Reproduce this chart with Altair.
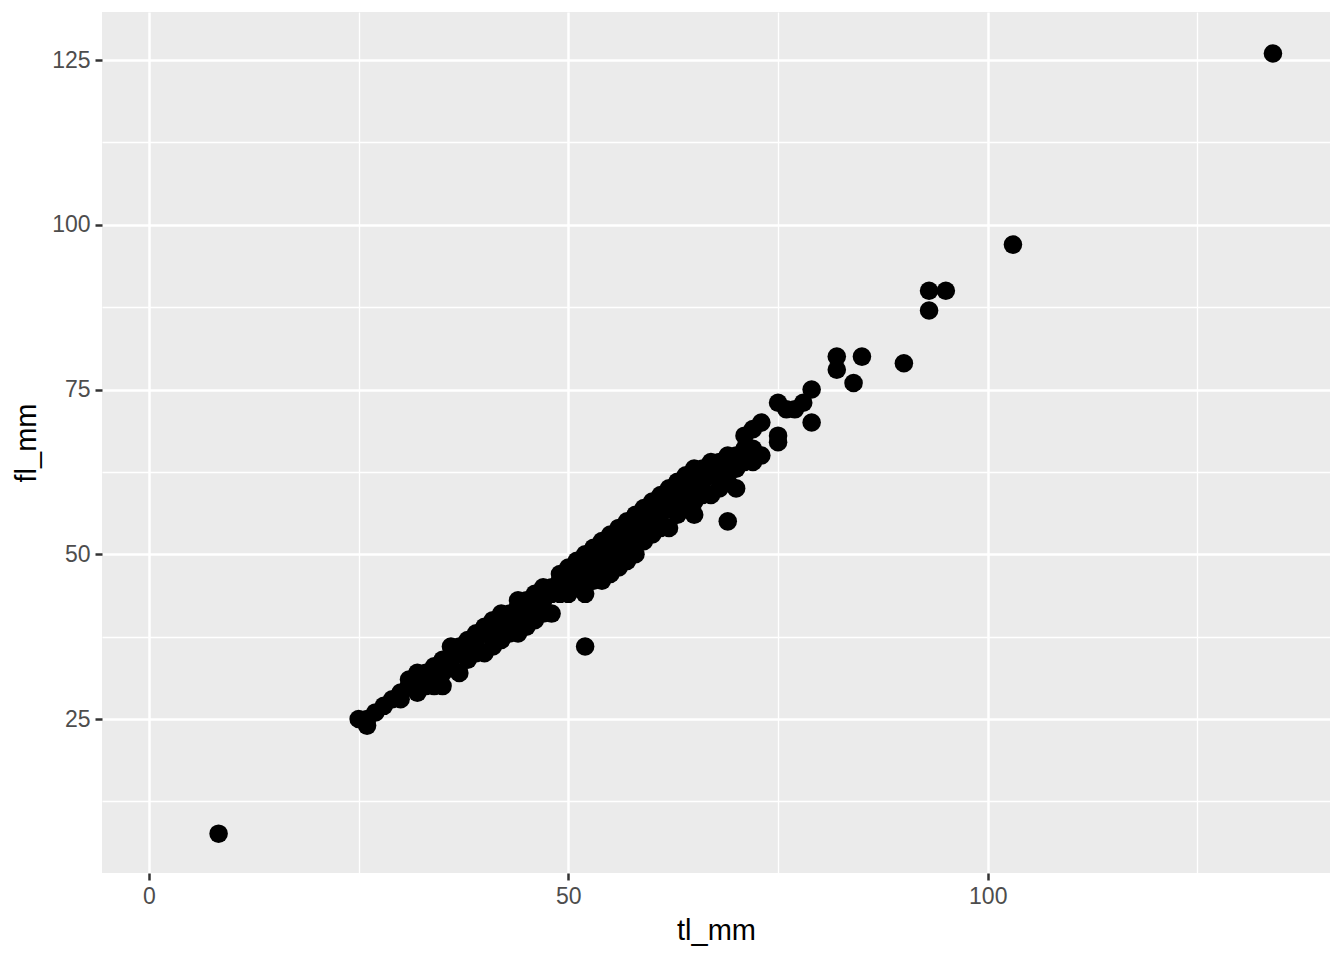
import altair as alt
import pandas as pd

tl_mm = [8.3, 25, 26, 26, 27, 28, 29, 30, 30, 31, 31, 32, 32, 32, 32, 33, 33, 34, 34, 34,
         35, 35, 35, 36, 36, 36, 37, 37, 37, 38, 38, 38, 39, 39, 39, 40, 40, 40, 41, 41,
         41, 42, 42, 42, 43, 43, 43, 44, 44, 44, 44, 45, 45, 45, 46, 46, 46, 47, 47, 47,
         48, 48, 48, 49, 49, 49, 50, 50, 50, 50, 51, 51, 51, 52, 52, 52, 52, 52, 53, 53,
         53, 53, 54, 54, 54, 54, 55, 55, 55, 55, 56, 56, 56, 56, 57, 57, 57, 57, 58, 58,
         58, 58, 59, 59, 59, 59, 60, 60, 60, 60, 61, 61, 61, 61, 62, 62, 62, 62, 63, 63,
         63, 63, 64, 64, 64, 64, 65, 65, 65, 65, 65, 66, 66, 66, 67, 67, 67, 68, 68, 68,
         69, 69, 69, 69, 70, 70, 70, 71, 71, 71, 72, 72, 72, 73, 73, 75, 75, 75, 76, 77,
         78, 79, 79, 82, 82, 84, 85, 90, 93, 93, 95, 103, 134]
fl_mm = [7.6, 25, 24, 25, 26, 27, 28, 28, 29, 30, 31, 29, 30, 31, 32, 30, 32, 30, 31, 33,
         30, 32, 34, 33, 36, 34, 32, 35, 36, 34, 36, 37, 35, 37, 38, 35, 38, 39, 36, 38,
         40, 37, 39, 41, 38, 40, 41, 38, 40, 42, 43, 39, 41, 43, 40, 42, 44, 41, 43, 45,
         41, 44, 45, 44, 46, 47, 44, 46, 47, 48, 45, 47, 49, 36, 44, 46, 48, 50, 46, 48,
         50, 51, 46, 48, 50, 52, 47, 49, 51, 53, 48, 50, 52, 54, 49, 51, 53, 55, 50, 52,
         54, 56, 52, 54, 56, 57, 53, 55, 57, 58, 54, 56, 58, 59, 54, 57, 59, 60, 56, 58,
         60, 61, 57, 59, 61, 62, 56, 58, 60, 62, 63, 59, 61, 63, 59, 62, 64, 60, 62, 64,
         55, 61, 63, 65, 60, 63, 65, 64, 66, 68, 64, 66, 69, 65, 70, 67, 68, 73, 72, 72,
         73, 70, 75, 78, 80, 76, 80, 79, 87, 90, 90, 97, 126]

x_ticks = [0, 25, 50, 75, 100, 125]          # majors 0/50/100, minors between
y_ticks = [12.5, 25, 37.5, 50, 62.5, 75, 87.5, 100, 112.5, 125]

df = pd.DataFrame({"tl_mm": tl_mm, "fl_mm": fl_mm})

xscale = alt.Scale(domain=[-5.6, 140.8], nice=False, zero=False)
yscale = alt.Scale(domain=[1.63, 132.3], nice=False, zero=False)

font = "Liberation Sans"


def axis(values, step, title, title_pad):
    test = f"datum.value % {step} === 0"
    return alt.Axis(
        values=values, title=title,
        grid=True, gridColor="white",
        gridWidth={"condition": {"test": test, "value": 2.5}, "value": 1.3},
        domain=False,
        tickColor={"condition": {"test": test, "value": "#333333"}, "value": "transparent"},
        tickWidth=2.5, tickSize=7,
        labelExpr=f"{test} ? datum.label : ''",
        labelColor="#4D4D4D", labelFont=font, labelFontSize=23, labelPadding=5,
        titleColor="black", titleFont=font, titleFontSize=29, titleFontWeight="normal",
        titlePadding=title_pad,
    )


points = alt.Chart(df).mark_circle(color="black", opacity=1, size=345).encode(
    x=alt.X("tl_mm:Q", scale=xscale, axis=axis(x_ticks, 50, "tl_mm", 8)),
    y=alt.Y("fl_mm:Q", scale=yscale, axis=axis(y_ticks, 25, "fl_mm", 10)),
)

chart = points.properties(
    width=1228, height=861,
    autosize=alt.AutoSizeParams(type="none"),
    padding={"left": 94, "top": 4, "right": 6, "bottom": 79},
    background="white",
).configure_view(fill="#EBEBEB", stroke=None)

chart.save("out.html", embed_options={"renderer": "svg", "actions": False})
